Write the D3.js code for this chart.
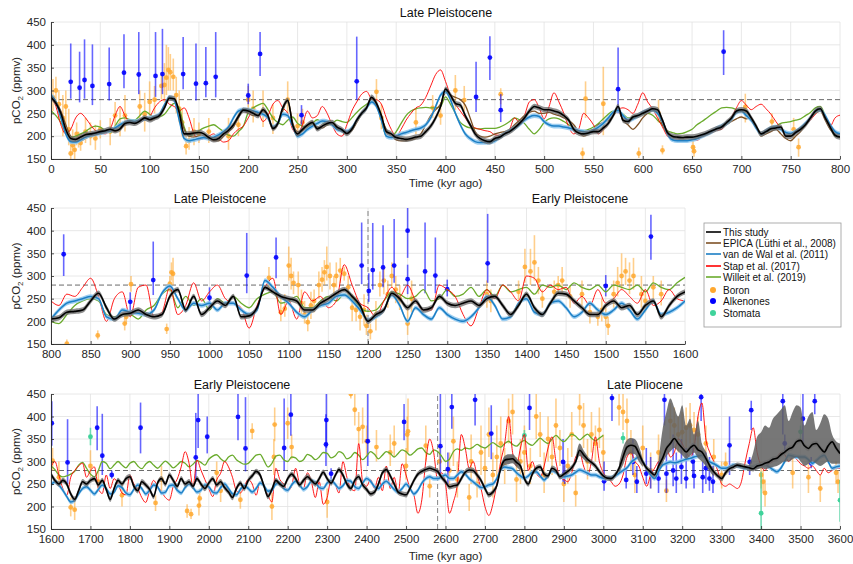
<!DOCTYPE html>
<html><head><meta charset="utf-8">
<script src="https://cdn.jsdelivr.net/npm/d3@7"></script>
<style>body{margin:0;background:#fff}svg{display:block;font-family:"Liberation Sans",Arial,Helvetica,sans-serif}</style>
</head><body><svg id="c" width="853" height="564"></svg>
<script>
// ---------------- DATA ----------------
const yTicks = [150,200,250,300,350,400,450];
const p1Ticks = [0,50,100,150,200,250,300,350,400,450,500,550,600,650,700,750,800];
const p2Ticks = [800,850,900,950,1000,1050,1100,1150,1200,1250,1300,1350,1400,1450,1500,1550,1600];
const p3Ticks = [1600,1700,1800,1900,2000,2100,2200,2300,2400,2500,2600,2700,2800,2900,3000,3100,3200,3300,3400,3500,3600];
const preIndustrial = 280;

// Panel 1: 0-800 kyr, every 5 kyr
const p1Study = [285,272,250,215,195,193,198,203,205,207,210,212,215,212,216,228,230,228,233,240,236,240,245,262,283,282,252,205,205,207,208,205,197,192,195,205,213,225,243,257,255,250,245,258,245,217,228,262,278,225,205,215,224,230,216,222,228,230,220,214,206,215,235,250,262,285,272,245,210,205,197,195,193,195,198,200,210,222,240,265,303,290,272,268,245,225,205,195,190,188,195,198,205,210,218,228,240,255,265,262,258,258,255,252,245,235,215,207,205,207,210,210,218,228,245,265,235,232,242,245,250,255,260,258,235,208,200,198,197,198,198,200,203,207,212,216,220,230,240,255,258,255,240,222,205,210,216,218,220,200,200,208,215,225,240,255,260,240,220,202,198];
const p1Epica = [290,275,255,225,200,192,190,195,200,203,205,208,212,210,215,225,232,230,235,238,235,238,248,268,285,280,255,215,200,198,200,200,195,190,190,200,210,220,240,255,250,245,248,255,240,215,225,255,280,230,210,212,225,232,220,218,225,228,220,210,205,212,230,248,262,280,268,240,215,200,192,190,190,192,195,205,225,245,258,270,295,290,285,280,268,240,210,200,198,200,205,208,210,215,225,235,245,252,255,250,250,252,248,245,240,235,225,210,200,205,215,225,230,235,245,255,235,225,215,225,240,250,255,250,225,205,198,196,195,195,193,195,200,205,210,215,220,225,232,238,242,238,240,220,200,205,210,215,205,195,190,200,210,225,240,250,255,235,215,205,205];
const p1VdW = [290,275,240,205,188,187,192,198,202,205,207,210,212,218,225,230,233,232,235,238,240,242,248,268,285,278,235,195,190,192,195,197,195,198,203,210,220,240,255,258,258,255,252,248,240,220,228,248,245,222,200,205,215,222,228,233,232,225,215,212,210,218,235,250,262,275,265,235,200,197,200,205,208,212,215,218,225,240,265,290,298,280,250,225,205,195,188,186,186,187,190,198,205,212,218,225,235,242,245,243,232,225,222,222,220,218,215,212,210,208,213,220,228,240,252,257,245,235,238,245,252,256,258,250,232,205,192,190,190,190,192,195,200,205,210,217,222,228,237,252,255,245,235,218,205,212,218,220,215,208,206,210,218,228,240,255,258,245,225,210,205];
const p1Stap = [286,265,225,205,215,240,250,240,225,212,207,205,215,245,265,245,230,228,232,236,242,262,275,280,270,265,255,262,240,205,192,195,200,205,195,187,190,205,215,222,240,255,252,232,245,270,278,262,250,215,205,225,255,240,245,265,250,225,205,200,225,255,275,292,298,282,280,270,240,215,200,215,235,250,262,268,285,310,335,345,320,290,270,255,240,225,218,215,212,210,203,202,205,215,240,230,245,275,280,262,238,265,295,275,250,220,205,215,250,240,225,205,215,228,245,258,262,258,250,270,295,275,260,240,220,200,192,193,196,198,194,191,198,203,208,213,215,228,242,262,278,268,258,265,270,260,248,232,218,208,205,210,215,225,235,248,255,240,222,240,246];
const p1Willeit = [256,245,230,210,198,200,205,210,218,222,220,212,208,222,238,240,236,235,245,255,248,240,242,248,262,272,262,220,200,205,212,218,222,225,218,210,202,200,210,222,252,262,268,272,258,240,230,225,235,242,228,222,220,228,236,230,225,228,235,232,230,240,252,262,270,276,270,235,200,198,210,228,245,255,260,262,263,262,262,265,286,270,250,230,222,218,217,216,217,217,217,220,225,232,240,236,228,215,205,215,230,238,240,238,232,225,218,210,212,215,220,228,238,248,255,255,248,240,242,245,248,250,246,235,225,212,208,205,206,210,215,225,232,240,248,255,262,263,262,258,255,248,235,220,205,208,215,222,228,230,232,235,238,245,252,262,265,245,220,200,198];

// Panel 2: 800-1600 kyr, every 10 kyr
const p2Study = [205,208,220,222,225,245,262,230,205,215,218,225,215,210,215,255,270,225,255,215,230,245,235,255,210,212,230,275,265,255,250,245,225,225,240,250,262,270,255,235,200,215,225,262,250,230,245,225,230,255,240,235,240,245,235,250,255,235,215,235,260,230,215,240,262,260,245,230,215,215,235,245,230,235,215,235,245,210,235,255,265];
const p2VdW = [205,225,240,245,250,255,250,210,205,225,220,218,215,225,262,278,250,225,240,235,240,225,240,240,225,215,225,290,275,255,240,220,210,225,235,240,255,258,245,225,203,210,225,258,235,200,230,215,205,230,215,205,200,210,230,255,235,205,210,240,250,220,215,240,245,230,210,220,240,225,215,225,240,225,205,225,245,215,220,230,245];
const p2Stap = [245,235,260,255,275,295,255,200,250,265,210,275,280,210,220,275,215,235,285,245,265,280,250,240,230,185,235,275,295,215,245,205,265,245,255,230,245,325,280,240,230,210,245,275,255,280,245,225,225,280,270,255,215,190,230,270,250,280,265,245,300,295,265,280,270,275,240,255,235,270,240,250,270,255,240,270,235,245,270,250,245];
const p2Willeit = [200,195,215,235,245,250,245,215,210,215,215,205,225,235,260,270,230,255,235,250,225,250,240,255,240,230,250,260,265,240,245,255,230,230,245,255,245,260,250,230,222,225,245,265,260,250,255,270,245,250,270,255,260,275,255,270,255,280,265,270,275,260,280,275,280,270,285,275,270,280,265,280,275,270,280,265,285,275,270,285,297];

// Panel 3: 1600-3600 kyr, every 10 kyr
const p3Study = [
272,258,250,258,250,228,216,235,255,250,
258,262,248,258,238,216,240,258,250,262,
266,245,235,255,248,238,222,252,262,250,
270,258,245,262,250,255,245,262,250,240,
252,262,248,255,242,232,220,240,252,240,
258,268,278,270,245,222,238,258,250,245,
262,272,262,248,258,266,258,250,262,276,
262,252,268,282,270,250,240,258,266,248,
238,228,232,250,275,282,268,250,232,228,
226,240,258,272,278,282,285,282,278,265,
255,244,246,248,262,276,281,280,270,258,
240,226,232,246,285,303,305,306,298,290,
262,250,272,285,288,272,268,285,280,266,
272,278,286,300,325,315,305,298,290,278,
268,263,262,270,285,310,332,336,334,318,
299,285,277,270,290,307,329,340,351,340,
330,321,330,336,326,321,307,290,277,268,
262,275,284,288,292,290,288,286,284,290,
292,296,299,305,307,315,321,328,332,344,
347,335,329,338,340,330,321,335,344,330,
318];
const p3VdW = [
248,255,248,236,222,210,214,228,240,244,
236,228,238,248,240,228,232,246,242,230,
226,238,248,240,228,236,248,244,230,232,
246,248,236,230,242,250,242,232,236,248,
244,232,230,242,250,240,228,226,238,246,
240,232,240,252,246,234,236,250,252,240,
236,248,256,248,238,244,256,254,242,240,
252,258,250,240,246,258,256,244,240,252,
262,256,244,240,250,256,248,238,232,240,
250,240,228,236,252,262,266,262,262,266,
270,262,262,270,277,272,262,255,248,242,
244,248,250,262,282,288,286,284,275,268,
263,268,276,277,268,259,268,280,276,268,
266,268,270,276,281,278,274,270,270,266,
263,263,264,268,274,280,286,298,305,310,
300,285,270,262,278,292,296,299,297,299,
302,305,307,310,312,314,305,299,295,290,
285,285,288,292,290,288,285,286,288,290,
292,292,288,282,277,285,300,314,312,310,
310,310,304,296,302,310,314,300,285,288,
290];
const p3Stap = [
288,300,270,240,225,265,280,290,296,265,
280,288,240,229,270,240,262,250,230,226,
270,250,240,220,209,235,258,245,233,220,
214,245,261,288,322,296,244,303,281,260,
240,222,259,274,300,288,265,235,230,245,
260,250,225,255,245,225,210,285,260,250,
235,245,285,250,240,275,255,220,255,205,
220,260,250,230,300,265,240,235,340,255,
245,260,240,265,235,290,240,265,230,295,
270,240,225,185,215,300,350,320,260,275,
250,185,210,250,360,330,285,300,270,240,
200,180,205,250,300,340,400,320,290,330,
360,280,300,275,265,290,330,355,300,265,
260,255,275,310,320,290,270,300,355,300,
275,265,255,245,250,270,310,320,300,290,
265,245,270,285,300,305,330,310,320,350,
340,320,310,330,400,430,350,320,300,280,
250,245,250,245,240,255,300,340,375,320,
290,280,295,300,310,320,315,300,310,305,
295,290,285,290,280,270,285,275,280,285,
285];
const p3Willeit = [
290,282,270,266,268,272,278,292,298,285,
272,266,280,300,296,284,292,300,292,286,
296,300,290,284,294,300,292,285,293,301,
294,286,292,300,296,288,294,302,298,292,
305,312,315,306,300,310,314,304,298,294,
296,305,314,316,302,288,296,312,314,304,
300,310,308,300,304,316,312,304,310,320,
318,308,312,322,318,306,310,320,314,304,
312,322,316,306,314,322,318,310,318,326,
322,314,320,328,330,320,316,326,322,312,
300,305,322,328,325,330,328,332,338,333,
330,336,342,336,332,340,345,338,334,342,
347,340,336,344,352,345,340,350,358,350,
344,352,361,356,348,355,361,352,346,352,
358];

// Widened uncertainty envelopes of "This study" (Pliocene)
const bandT1 = [2740,2750,2760,2770,2780,2790], bandHi1 = [292,312,316,316,308,298], bandLo1 = [276,292,294,296,288,280];
const bandT2 = [2930,2940,2950,2960], bandHi2 = [308,340,325,312], bandLo2 = [292,312,305,296];
const bandT3 = [3040,3050,3060,3070,3080,3090,3100], bandHi3 = [296,330,348,352,350,334,306], bandLo3 = [275,292,314,318,316,300,288];
const bandT4 = [3140,3150,3160,3170,3180,3190,3200,3210,3220,3230,3240,3250,3260,3270,3280], bandHi4 = [300,370,410,440,420,400,425,380,395,360,390,340,322,296,284], bandLo4 = [282,295,312,322,330,322,314,306,312,320,308,300,290,278,266];
const bandT5 = [3370,3380,3390,3400,3410,3420,3430,3440,3450,3460,3470,3480,3490,3500,3510,3520,3530,3540,3550,3560,3570,3580,3590,3600], bandHi5 = [292,320,355,365,380,375,395,405,415,425,390,410,425,420,380,400,410,370,385,405,395,360,345,340], bandLo5 = [278,280,282,285,283,285,288,290,295,300,300,305,310,300,290,295,300,295,290,295,300,295,295,295];

// Proxies: [time, value, lower, upper]
const alkenones = [[20,319,282,403],[29,306,274,385],[34,323,282,412],[42,310,268,401],[59,314,278,394],[74,339,305,423],[89,335,292,428],[106,332,286,428],[113,336,292,435],[134,336,303,417],[147,315,278,403],[157,316,285,395],[167,330,285,428],[200,289,270,315],[212,380,332,428],[254,246,225,268],[310,320,280,418],[431,286,253,363],[445,372,323,419],[456,257,231,292],[575,303,250,394],[682,385,334,432],
[816,348,300,392],[900,243,221,264],[929,291,258,376],[1000,252,230,275],[1047,301,262,395],[1084,341,295,385],[1192,323,282,418],[1201,267,243,306],[1206,313,270,417],[1219,319,275,412],[1233,323,285,426],[1250,400,340,455],[1250,293,260,325],[1272,310,262,418],[1285,301,262,385],[1300,271,255,292],[1351,328,285,437],[1500,278,255,302],[1557,387,336,435],
[1602,385,335,434],[1642,298,250,394],[1717,375,325,423],[1730,313,270,406],[1754,270,262,280],[1827,375,318,431],[1967,309,255,408],[1973,392,330,455],[1996,355,318,400],[2074,399,347,455],[2093,329,278,443],[2191,330,280,440],[2208,404,357,455],[2297,338,290,405],[2298,392,330,455],[2310,273,260,285],[2403,345,290,455],[2495,388,347,428],[2587,334,270,455],[2606,283,250,320],[2616,421,373,455],[2675,437,380,455],[2716,362,305,425],[2813,419,370,455],[2898,299,255,350],[2902,273,250,300],[3002,256,235,300],[3022,441,390,455],[3058,259,240,285],[3075,299,270,350],[3085,255,230,290],[3109,273,250,330],[3120,275,240,310],[3140,262,230,300],[3155,437,380,455],[3160,273,230,330],[3177,280,245,360],[3185,262,230,320],[3198,288,250,350],[3210,262,240,330],[3227,300,265,340],[3230,268,240,300],[3248,443,390,455],[3252,265,230,300],[3260,285,250,320],[3269,262,235,310],[3278,255,230,290],[3320,336,270,400],[3371,299,270,310],[3375,414,370,435],[3455,434,360,455],[3460,340,320,360],[3506,395,340,455],[3527,296,285,310],[3536,434,405,455]];

const boron = [[2,285,255,325],[5,300,270,330],[8,270,240,300],[12,240,200,290],[15,265,220,300],[18,215,180,260],[20,162,150,185],[22,180,160,215],[24,170,150,195],[26,205,180,230],[28,195,175,210],[30,185,168,205],[35,210,185,240],[40,200,180,230],[45,195,170,225],[50,215,195,235],[60,210,180,240],[65,245,215,275],[70,225,200,265],[75,245,210,290],[90,265,235,300],[95,248,210,295],[100,275,240,320],[105,280,250,310],[112,310,280,340],[115,312,275,360],[117,328,290,400],[119,345,300,395],[121,340,300,380],[124,330,300,370],[127,290,250,330],[130,260,230,300],[133,230,200,260],[137,178,160,200],[140,190,170,220],[145,210,180,240],[150,205,185,230],[160,210,185,240],[180,200,170,240],[190,225,200,255],[200,280,250,310],[205,260,230,300],[215,255,220,300],[225,240,205,270],[240,280,250,320],[250,222,205,250],[255,230,210,260],[330,297,270,325],[335,240,215,270],[370,230,205,260],[387,262,240,290],[395,245,225,275],[410,300,257,334],[419,279,255,310],[456,292,270,305],[539,162,150,175],[542,282,240,320],[560,271,202,352],[596,162,152,175],[616,250,230,280],[620,169,160,180],[651,176,165,190],[652,167,155,178],[704,264,230,293],[731,232,215,250],[753,215,195,240],[758,176,155,195],
[820,151,145,160],[859,169,160,180],[893,195,180,210],[895,210,195,225],[901,282,265,300],[946,183,172,195],[950,283,265,300],[952,308,290,330],[954,305,280,340],[1075,296,270,320],[1090,220,200,250],[1095,228,210,260],[1100,323,290,365],[1103,300,270,340],[1106,285,260,310],[1112,280,250,310],[1116,240,210,270],[1120,215,195,245],[1124,198,178,220],[1128,235,205,265],[1132,245,220,270],[1138,280,250,310],[1142,292,265,320],[1145,308,280,335],[1148,320,290,365],[1152,300,270,330],[1157,280,260,300],[1160,300,275,330],[1165,312,285,340],[1170,305,290,320],[1175,275,250,300],[1180,230,200,260],[1185,225,200,255],[1190,210,180,240],[1195,225,190,260],[1198,190,170,215],[1203,178,160,195],[1210,215,180,245],[1215,280,255,310],[1220,290,260,320],[1225,260,230,290],[1230,300,275,330],[1235,270,240,300],[1240,250,225,280],[1250,195,170,230],[1255,250,220,290],[1350,260,230,290],[1355,245,220,270],[1390,265,245,290],[1398,320,285,360],[1405,310,280,360],[1410,330,290,390],[1415,290,260,320],[1420,250,230,270],[1435,265,240,290],[1440,280,260,300],[1445,290,260,320],[1455,255,230,280],[1470,260,235,290],[1480,220,195,245],[1490,210,190,230],[1495,225,200,250],[1500,210,190,230],[1503,190,170,210],[1510,260,230,290],[1515,285,255,320],[1520,300,270,350],[1525,310,280,340],[1530,290,260,330],[1535,300,270,340],[1545,260,230,300],[1550,245,220,270],[1560,275,250,300],[1570,260,235,290],
[1604,302,280,330],[1620,265,245,300],[1650,198,178,220],[1660,193,170,215],[1700,290,265,325],[1720,255,235,280],[1780,225,200,250],[1865,208,190,225],[1880,260,230,290],[1945,190,175,205],[1955,183,172,195],[1975,202,180,225],[1977,218,200,240],[2020,275,250,300],[2030,235,210,260],[2080,215,195,240],[2110,368,350,385],[2160,200,170,230],[2165,310,270,350],[2167,382,345,420],[2200,385,350,420],[2210,332,305,360],[2300,210,175,240],[2360,450,440,460],[2370,415,380,450],[2380,372,340,410],[2390,377,340,420],[2400,345,310,380],[2425,332,300,370],[2460,320,290,360],[2470,340,310,380],[2500,290,260,330],[2503,360,320,400],[2505,367,320,440],[2550,335,300,380],[2560,245,220,270],
[2585,300,260,340],[2610,280,240,320],[2620,345,290,400],[2630,260,220,300],[2660,220,190,250],[2665,300,250,360],[2680,250,220,280],[2690,320,270,380],[2700,285,240,330],[2710,360,310,420],[2720,270,220,320],[2730,310,260,380],[2740,340,290,400],[2750,290,250,330],[2760,390,340,440],[2770,410,360,450],[2780,260,210,310],[2790,300,250,350],[2800,320,270,380],[2815,290,250,330],[2830,400,350,450],[2840,360,310,410],[2850,270,230,320],[2860,350,300,400],[2870,310,270,350],[2880,380,330,440],[2890,330,290,370],[2900,250,210,290],[2910,290,250,330],[2920,360,310,410],[2930,230,200,270],[2940,420,380,450],[2950,380,330,430],[2960,300,260,350],[2970,360,320,410],[2980,340,300,380],[2990,370,330,420],[3000,320,280,360],[3040,420,380,450],[3050,410,370,450],[3060,390,340,440],[3070,320,280,370],[3080,270,230,310],[3100,330,290,380],[3120,280,240,320],[3140,320,280,360],[3160,235,210,260],[3170,390,350,430],[3180,380,340,420],[3190,360,320,400],[3200,365,320,410],[3210,375,330,420],[3220,380,340,430],[3230,370,330,410],[3240,360,320,400],[3260,340,300,380],[3280,310,270,350],[3300,270,240,300],[3310,295,270,320],[3400,270,240,300],[3405,255,230,280],[3410,230,200,260],[3480,275,240,310],[3520,265,230,300],[3550,240,210,270],[3590,275,250,300],[3595,255,230,280]];

const stomata = [[1700,355,336,375],[2800,358,345,370],[3050,352,340,365],[3400,185,150,277],[3500,366,350,380],[3600,214,166,259]];

const legendLabels = ["This study","EPICA (Lüthi et al., 2008)","van de Wal et al. (2011)","Stap et al. (2017)","Willeit et al. (2019)","Boron","Alkenones","Stomata"];

// ---------------- STYLE ----------------
const C = {study:"#000000", epica:"#7f5226", vdw:"#1c7fc5", stap:"#ff0000", willeit:"#6aab2c", boron:"#ffa82e", alk:"#0000ff", stom:"#3fd39b"};
const STUDY_ERR = 6, VDW_ERR = 5;

const svg = d3.select("#c");
const ser = (start, step, vals) => vals.map((v,i)=>({t:start+i*step, v}));

const panels = [
 {dom:[0,800], xr:[51,840], yr:[159,22], ticks:p1Ticks, titles:[["Late Pleistocene",446]], titleY:17, xlabelY:187, vlines:[],
  study:ser(0,5,p1Study), epica:ser(0,5,p1Epica), vdw:ser(0,5,p1VdW), stap:ser(0,5,p1Stap), willeit:ser(0,5,p1Willeit), bands:[]},
 {dom:[800,1600], xr:[51,685], yr:[344,208], ticks:p2Ticks, titles:[["Late Pleistocene",220],["Early Pleistocene",580]], titleY:203, xlabelY:null, vlines:[1200],
  study:ser(800,10,p2Study), epica:null, vdw:ser(800,10,p2VdW), stap:ser(800,10,p2Stap), willeit:ser(800,10,p2Willeit), bands:[]},
 {dom:[1600,3600], xr:[51,840], yr:[529,394], ticks:p3Ticks, titles:[["Early Pleistocene",242],["Late Pliocene",645]], titleY:389, xlabelY:560, vlines:[2580],
  study:ser(1600,10,p3Study), epica:null, vdw:ser(1600,10,p3VdW), stap:ser(1600,10,p3Stap), willeit:ser(1600,10,p3Willeit),
  bands:[[bandT1,bandHi1,bandLo1],[bandT2,bandHi2,bandLo2],[bandT3,bandHi3,bandLo3],[bandT4,bandHi4,bandLo4],[bandT5,bandHi5,bandLo5]]}
];

panels.forEach((p,pi)=>{
  const x = d3.scaleLinear().domain(p.dom).range(p.xr);
  const y = d3.scaleLinear().domain([150,450]).range(p.yr);
  const g = svg.append("g");
  const cid = "clip"+pi;
  svg.append("clipPath").attr("id",cid).append("rect")
    .attr("x",p.xr[0]).attr("y",p.yr[1]).attr("width",p.xr[1]-p.xr[0]).attr("height",p.yr[0]-p.yr[1]);

  // grid
  const grid = g.append("g").attr("stroke","#e2e2e2").attr("stroke-width",0.8);
  p.ticks.forEach(t=>grid.append("line").attr("x1",x(t)).attr("x2",x(t)).attr("y1",p.yr[0]).attr("y2",p.yr[1]));
  yTicks.forEach(t=>grid.append("line").attr("x1",p.xr[0]).attr("x2",p.xr[1]).attr("y1",y(t)).attr("y2",y(t)));

  const pg = g.append("g").attr("clip-path",`url(#${cid})`);
  // reference lines
  pg.append("line").attr("x1",p.xr[0]).attr("x2",p.xr[1]).attr("y1",y(preIndustrial)).attr("y2",y(preIndustrial))
    .attr("stroke","#5a5a5a").attr("stroke-width",0.9).attr("stroke-dasharray","5,3");
  p.vlines.forEach(t=>pg.append("line").attr("x1",x(t)).attr("x2",x(t)).attr("y1",p.yr[0]).attr("y2",p.yr[1])
    .attr("stroke","#777").attr("stroke-width",0.9).attr("stroke-dasharray","5,3"));

  const inDom = d => d[0]>=p.dom[0] && d[0]<=p.dom[1];
  function proxies(data,col,barOp,r){
    const d = data.filter(inDom);
    pg.append("g").selectAll("line").data(d).join("line")
      .attr("x1",e=>x(e[0])).attr("x2",e=>x(e[0])).attr("y1",e=>y(e[2])).attr("y2",e=>y(e[3]))
      .attr("stroke",col).attr("stroke-opacity",barOp).attr("stroke-width",1.6);
    pg.append("g").selectAll("circle").data(d).join("circle")
      .attr("cx",e=>x(e[0])).attr("cy",e=>y(e[1])).attr("r",r).attr("fill",col).attr("fill-opacity",Math.min(1,barOp+0.3));
  }
  proxies(boron,C.boron,0.55,2.4);
  proxies(alkenones,C.alk,0.6,2.4);
  proxies(stomata,C.stom,0.7,2.4);

  const line = d3.line().x(d=>x(d.t)).y(d=>y(d.v)).curve(d3.curveMonotoneX);
  const draw = (data,col,w)=>{ if(data) pg.append("path").datum(data).attr("d",line).attr("fill","none").attr("stroke",col).attr("stroke-width",w).attr("stroke-linejoin","round"); };

  draw(p.willeit,C.willeit,1.3);
  draw(p.stap,C.stap,0.9);
  draw(p.epica,C.epica,1.3);
  // vdW band + line
  pg.append("path").datum(p.vdw).attr("fill","#8cc6ee").attr("fill-opacity",0.85)
    .attr("d",d3.area().x(d=>x(d.t)).y0(d=>y(d.v-VDW_ERR)).y1(d=>y(d.v+VDW_ERR)).curve(d3.curveMonotoneX));
  draw(p.vdw,C.vdw,1.5);
  // study band + line
  p.bands.forEach(b=>{
    const pts = b[0].map((t,i)=>({t, hi:b[1][i], lo:b[2][i]}));
    pg.append("path").datum(pts).attr("fill","#5f5f5f").attr("fill-opacity",0.85)
      .attr("d",d3.area().x(d=>x(d.t)).y0(d=>y(d.lo)).y1(d=>y(d.hi)).curve(d3.curveMonotoneX));
  });
  pg.append("path").datum(p.study).attr("fill","#6a6a6a").attr("fill-opacity",0.75)
    .attr("d",d3.area().x(d=>x(d.t)).y0(d=>y(d.v-STUDY_ERR)).y1(d=>y(d.v+STUDY_ERR)).curve(d3.curveMonotoneX));
  draw(p.study,C.study,1.6);

  // axes
  const ax = g.append("g").attr("transform",`translate(0,${p.yr[0]})`)
    .call(d3.axisBottom(x).tickValues(p.ticks).tickSize(-3).tickSizeOuter(0).tickPadding(6).tickFormat(d3.format("d")));
  const ay = g.append("g").attr("transform",`translate(${p.xr[0]},0)`)
    .call(d3.axisLeft(y).tickValues(yTicks).tickSize(-3).tickSizeOuter(0).tickPadding(5));
  [ax,ay].forEach(a=>{
    a.select(".domain").attr("stroke","#262626").attr("stroke-width",0.9);
    a.selectAll(".tick line").attr("stroke","#262626").attr("stroke-width",0.8);
    a.selectAll("text").attr("fill","#262626").attr("font-size",11.5).attr("font-family","Liberation Sans, Arial, sans-serif");
  });

  // titles
  p.titles.forEach(tt=>svg.append("text").attr("x",tt[1]).attr("y",p.titleY).attr("text-anchor","middle")
    .attr("font-size",12.5).attr("fill","#111").text(tt[0]));
  if(p.xlabelY) svg.append("text").attr("x",(p.xr[0]+840)/2).attr("y",p.xlabelY).attr("text-anchor","middle")
    .attr("font-size",11.5).attr("fill","#262626").text("Time (kyr ago)");
  const yl = svg.append("text").attr("transform",`translate(20,${(p.yr[0]+p.yr[1])/2}) rotate(-90)`)
    .attr("text-anchor","middle").attr("font-size",11.5).attr("fill","#262626");
  yl.append("tspan").text("pCO");
  yl.append("tspan").attr("font-size",8).attr("dy",3).text("2");
  yl.append("tspan").attr("dy",-3).text(" (ppmv)");
});

// legend
const lg = svg.append("g");
lg.append("rect").attr("x",704).attr("y",223).attr("width",137).attr("height",104).attr("fill","#fff").attr("stroke","#9a9a9a").attr("stroke-width",0.8);
const legCols = [C.study,C.epica,C.vdw,C.stap,C.willeit,C.boron,C.alk,C.stom];
const legY = [232,243,254,266,277,290,301,313];
legendLabels.forEach((lab,i)=>{
  if(i<5) lg.append("line").attr("x1",706).attr("x2",721).attr("y1",legY[i]).attr("y2",legY[i]).attr("stroke",legCols[i]).attr("stroke-width",1.6);
  else lg.append("circle").attr("cx",713).attr("cy",legY[i]).attr("r",3).attr("fill",legCols[i]);
  lg.append("text").attr("x",723).attr("y",legY[i]+3.6).attr("font-size",10).attr("fill","#111").text(lab);
});
</script></body></html>
